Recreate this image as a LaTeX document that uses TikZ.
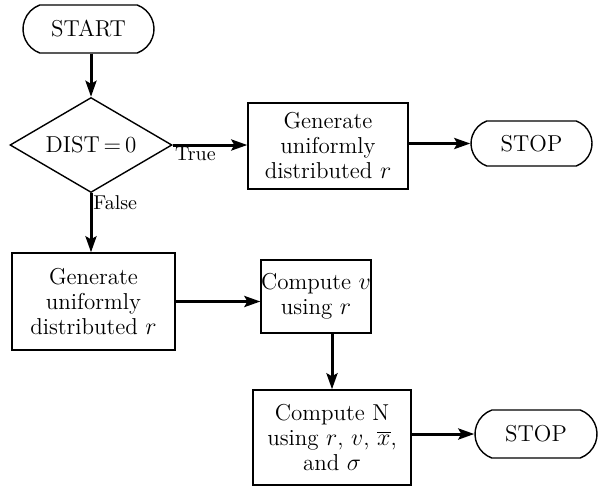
\documentclass[tikz,border=0pt]{standalone}
\usetikzlibrary{shapes.geometric,shapes.misc,arrows.meta}
\begin{document}
\begin{tikzpicture}[x=0.5pt,y=-0.5pt,
  every node/.style={font=\fontsize{11.5}{12.5}\selectfont},
  term/.style={draw,line width=0.7pt,rounded rectangle,rounded rectangle arc length=140,inner sep=0pt,align=center},
  procbox/.style={draw,line width=0.7pt,rectangle,inner sep=0pt,align=center},
  decision/.style={draw,line width=0.7pt,diamond,shape aspect=1.7,inner sep=0pt,align=center},
  flow/.style={line width=1.5pt,-{Stealth[length=8pt,width=5.5pt,inset=1.5pt]}},
  lab/.style={font=\fontsize{10}{10}\selectfont,inner sep=1pt}]
\useasboundingbox (0,0) rectangle (598,487);
\node[term,minimum width=65.5pt,minimum height=24pt] (start) at (88.5,29) {START};
\node[decision,minimum width=81pt,minimum height=47.5pt] (dia) at (91,145) {DIST\,=\,0};
\node[procbox,minimum width=80pt,minimum height=43pt] (b1) at (328,146) {Generate\\uniformly\\distributed $r$};
\node[term,minimum width=60.5pt,minimum height=22.5pt] (s1) at (531.5,143.5) {STOP};
\node[procbox,minimum width=81.5pt,minimum height=48.5pt] (b2) at (93.5,301.5) {Generate\\uniformly\\distributed $r$};
\node[procbox,minimum width=53pt,minimum height=36.5pt] (b3) at (316,296.5) {Compute $v$\\using $r$};
\node[procbox,minimum width=79pt,minimum height=47.5pt] (b4) at (332,437.5) {Compute N\\using $r$, $v$, $\overline{x}$,\\and $\sigma$};
\node[term,minimum width=61pt,minimum height=24pt] (s2) at (536,434) {STOP};
\draw[flow] (start.south -| dia.north) -- (dia.north);
\draw[flow] (dia.east) -- (dia.east -| b1.west);
\draw[flow] (b1.east |- s1.west) -- (s1.west);
\draw[flow] (dia.south) -- (dia.south |- b2.north);
\draw[flow] (b2.east) -- (b2.east -| b3.west);
\draw[flow] (b3.south -| b4.north) -- (b4.north);
\draw[flow] (b4.east |- s2.west) -- (s2.west);
\node[lab,anchor=north west] (true) at (dia.east) {True};
\node[lab,anchor=north west] (false) at (dia.south) {False};
\end{tikzpicture}
\end{document}
